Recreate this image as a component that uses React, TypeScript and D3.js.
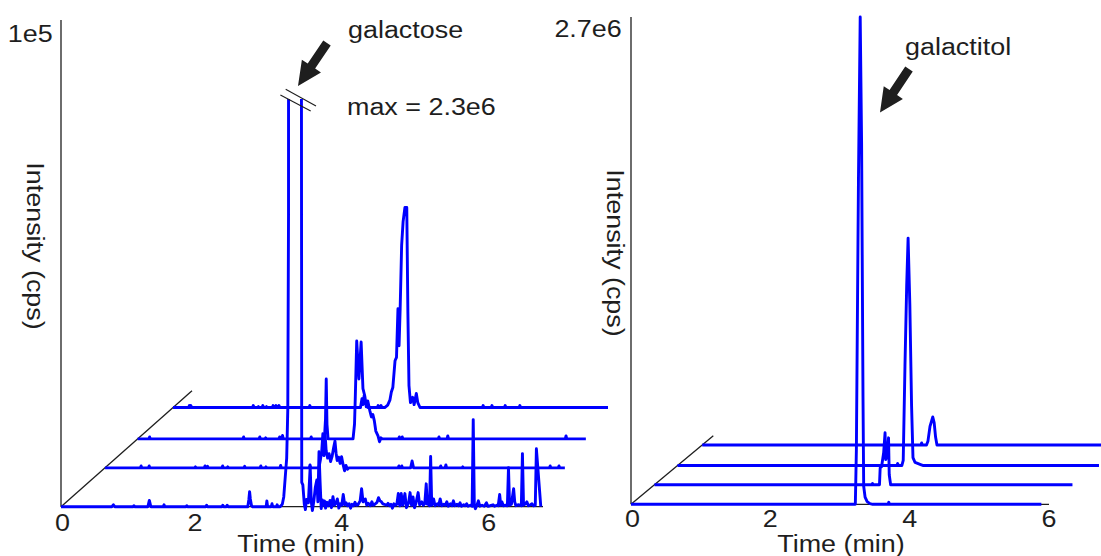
import React from "react";
import * as d3 from "d3";

type Pt = [number, number];

// ---------- data ----------
const timeTicks = [0, 2, 4, 6];
const leftMax = 1e5;
const rightMax = 2.7e6;
const leftMaxLabel = "1e5";
const rightMaxLabel = "2.7e6";
const leftTimeDomain: Pt = [0.177, 6.74];
const rightTimeDomain: Pt = [0, 6];
const leftDepths = [0, 0.335, 0.585, 0.855];
const rightDepths = [0, 0.285, 0.565, 0.865];

const leftTrace0: Pt[] = [
  [0.177,0],[0.87,0],[0.89,400],[0.91,0],[1.16,0],[1.17,200],[1.18,0],[1.36,0],[1.38,1300],[1.40,0],
  [1.57,0],[1.58,400],[1.59,0],[1.88,0],[1.89,200],[1.90,0],[2.15,0],[2.16,300],[2.17,0],
  [2.37,0],[2.38,300],[2.39,0],[2.43,0],[2.44,300],[2.45,0],
  [2.72,0],[2.735,1500],[2.745,3100],[2.755,1600],[2.77,300],[2.78,0],
  [2.97,0],[2.98,1200],[2.99,0],[3.04,0],[3.05,600],[3.06,0],[3.11,0],[3.12,400],[3.13,0],
  [3.16,0],[3.19,500],[3.21,2000],[3.23,6000],[3.25,10000],[3.265,20000],[3.275,60000],[3.29,2300000],
  [3.41,2100000],[3.44,300000],[3.455,5000],
  [3.47,4500],[3.49,500],[3.505,-600],[3.52,1500],[3.545,800],[3.57,8200],[3.585,1000],[3.60,-800],
  [3.62,1200],[3.64,4000],[3.66,5500],[3.675,1000],[3.69,11300],[3.705,5000],[3.72,-400],[3.735,1400],
  [3.75,300],[3.765,1200],[3.78,-300],[3.80,900],[3.82,200],[3.84,1300],[3.86,-200],[3.88,2050],
  [3.90,300],[3.92,700],[3.94,1600],[3.96,-300],[3.98,600],[4.00,300],[4.02,2500],[4.04,400],
  [4.06,800],[4.08,200],[4.10,600],[4.12,-300],[4.14,500],[4.16,200],[4.18,900],[4.20,300],
  [4.22,400],[4.25,1200],[4.27,3700],[4.29,1000],[4.32,1600],[4.34,300],[4.36,700],[4.39,200],
  [4.41,1000],[4.43,300],[4.45,500],[4.48,900],[4.50,1850],[4.52,1200],[4.54,1000],[4.56,600],
  [4.58,500],[4.61,300],[4.63,700],[4.65,200],[4.67,500],[4.69,-300],[4.71,600],[4.73,300],
  [4.75,500],[4.77,2700],[4.79,200],[4.81,2700],[4.83,300],[4.86,2700],[4.88,-200],[4.91,800],
  [4.93,2900],[4.95,300],[4.97,2000],[4.99,-200],[5.01,700],[5.04,2900],[5.06,400],[5.09,1000],
  [5.11,300],[5.13,600],[5.15,4700],[5.165,500],[5.18,2000],[5.195,200],[5.21,10300],[5.225,300],
  [5.25,1600],[5.27,200],[5.30,600],[5.32,300],[5.34,1600],[5.36,200],[5.39,500],[5.41,300],
  [5.43,1000],[5.45,100],[5.48,600],[5.50,200],[5.52,1200],[5.54,200],[5.57,500],[5.59,200],
  [5.61,800],[5.63,100],[5.66,400],[5.68,200],[5.70,600],[5.72,100],[5.75,300],[5.775,100],
  [5.79,17900],[5.805,200],[5.82,-400],[5.84,300],[5.86,1200],[5.88,100],[5.91,300],[5.94,100],
  [5.97,800],[5.99,100],[6.02,200],[6.06,400],[6.08,100],[6.11,300],[6.13,200],[6.15,2500],
  [6.165,300],[6.18,1000],[6.20,200],[6.23,300],[6.255,200],[6.27,8000],[6.285,300],[6.31,500],
  [6.34,3700],[6.355,1000],[6.37,200],[6.40,400],[6.43,300],[6.445,200],[6.46,10900],[6.475,300],
  [6.50,600],[6.52,1000],[6.54,200],[6.57,400],[6.59,600],[6.61,200],[6.635,300],[6.65,11900],
  [6.71,0]
];

const leftTrace1: Pt[] = [
  [0.177,0],[0.66,0],[0.67,400],[0.68,0],[0.77,0],[0.78,400],[0.79,0],[1.40,0],[1.41,200],[1.42,0],
  [1.53,0],[1.54,400],[1.55,0],[1.565,0],[1.575,300],[1.585,0],[1.77,0],[1.78,400],[1.79,0],
  [1.84,0],[1.85,200],[1.86,0],[2.07,0],[2.08,300],[2.09,0],[2.29,0],[2.30,400],[2.31,0],
  [2.36,0],[2.37,200],[2.38,0],[2.56,0],[2.57,500],[2.58,0],[2.96,0],[2.97,600],[2.98,0],
  [3.09,0],[3.11,1500],[3.13,3500],[3.145,7000],[3.16,2500],[3.175,7000],[3.19,3500],[3.21,2000],
  [3.23,2900],[3.25,1300],[3.27,2300],[3.29,4000],[3.31,5500],[3.325,3000],[3.34,1500],[3.36,2200],
  [3.38,900],[3.40,2300],[3.42,700],[3.44,-600],[3.46,500],[3.48,-300],[3.50,0],
  [4.17,0],[4.18,400],[4.19,0],[4.21,0],[4.22,400],[4.23,0],[4.34,0],[4.36,1400],[4.38,0],
  [4.74,0],[4.75,400],[4.76,0],[4.81,0],[4.82,600],[4.83,0],[5.04,0],[5.05,200],[5.06,0],
  [6.23,0],[6.24,400],[6.25,0],[6.35,0],[6.36,400],[6.37,0],[6.44,0]
];

const leftTrace2: Pt[] = [
  [0.177,0],[0.33,0],[0.34,400],[0.35,0],[1.61,0],[1.62,400],[1.63,0],[1.83,0],[1.84,400],[1.85,0],
  [1.91,0],[1.92,200],[1.93,0],[2.10,0],[2.11,400],[2.12,0],[2.14,0],[2.15,700],[2.16,0],
  [2.53,0],[2.54,400],[2.55,0],[2.72,0],[2.735,4000],[2.745,12300],[2.755,3000],[2.77,0],
  [3.11,0],[3.13,3000],[3.14,8200],[3.16,20100],[3.19,12300],[3.22,19900],[3.245,10300],
  [3.27,8800],[3.29,6600],[3.31,7800],[3.34,5700],[3.36,4500],[3.38,5000],[3.40,3700],
  [3.42,1600],[3.45,600],[3.47,-600],[3.49,200],[3.51,0],
  [3.73,0],[3.74,400],[3.75,0],[3.77,0],[3.78,400],[3.79,0],[4.27,0],[4.28,400],[4.29,0],
  [4.39,0],[4.40,600],[4.41,0],[6.00,0],[6.01,600],[6.02,0],[6.28,0]
];

const leftTrace3: Pt[] = [
  [0.177,0],[0.39,0],[0.40,400],[0.41,0],[0.42,400],[0.43,0],[1.26,0],[1.27,400],[1.28,0],
  [1.33,0],[1.34,200],[1.35,0],[1.39,0],[1.40,400],[1.41,0],[1.44,0],[1.45,200],[1.46,0],
  [1.53,0],[1.54,400],[1.55,0],[1.57,0],[1.58,400],[1.59,0],[1.61,0],[1.62,400],[1.63,0],
  [2.03,0],[2.04,400],[2.05,0],
  [2.73,0],[2.75,1800],[2.765,600],[2.78,2500],[2.795,800],[2.81,1000],[2.83,0],
  [2.96,0],[2.97,400],[2.98,0],[3.00,0],[3.01,400],[3.02,0],
  [3.06,0],[3.10,500],[3.13,1500],[3.15,3200],[3.17,4100],[3.20,9600],[3.22,10300],[3.24,20300],
  [3.255,12700],[3.27,20300],[3.29,33300],[3.31,38200],[3.335,41100],[3.36,41100],[3.375,19700],
  [3.39,4500],[3.41,1000],[3.44,2100],[3.46,600],[3.49,2900],[3.51,1000],[3.54,0],
  [4.39,0],[4.40,400],[4.41,0],[4.51,0],[4.52,400],[4.53,0],[4.69,0],[4.70,400],[4.71,0],
  [4.89,0],[4.90,400],[4.91,0],[6.10,0]
];

const rightTrace0: Pt[] = [
  [0,0],[3.22,0],[3.235,300000],[3.265,1800000],[3.29,2700000],[3.31,2000000],[3.33,600000],
  [3.34,100000],[3.36,40000],[3.39,15000],[3.43,4000],[3.47,0],[3.69,0],[3.70,11000],[3.71,0],[5.89,0]
];
const rightTrace1: Pt[] = [
  [0,0],[3.12,0],[3.13,7000],[3.14,0],[3.23,0],[3.24,94000],[3.26,100000],[3.29,177000],
  [3.31,288000],[3.32,139000],[3.34,166000],[3.36,260000],[3.37,55000],[3.39,0],[6.0,0]
];
const rightTrace2: Pt[] = [
  [0,0],[3.15,0],[3.16,11000],[3.17,0],[3.22,0],[3.24,28000],[3.265,550000],[3.29,1000000],
  [3.31,1260000],[3.335,890000],[3.36,330000],[3.38,44000],[3.41,17000],[3.49,5500],[3.53,0],[6.05,0]
];
const rightTrace3: Pt[] = [
  [0,0],[3.14,0],[3.15,11000],[3.16,0],[3.22,0],[3.24,20000],[3.27,103000],[3.31,155000],
  [3.33,122000],[3.35,44000],[3.37,0],[6.1,0]
];

const leftTraces = [leftTrace0, leftTrace1, leftTrace2, leftTrace3];
const rightTraces = [rightTrace0, rightTrace1, rightTrace2, rightTrace3];

// ---------- layout / style ----------
const W = 1101;
const H = 556;
const FONT = "'Liberation Sans', Arial, Helvetica, sans-serif";
const BLUE = "#0000ff";
const INK = "#1e1e1e";

function Label(props: { x: number; y: number; rotate?: number; anchor?: string; children: React.ReactNode }) {
  const { x, y, rotate = 0, anchor = "start", children } = props;
  return (
    <text
      transform={`translate(${x},${y}) rotate(${rotate}) scale(1.17,1)`}
      textAnchor={anchor}
      fontFamily={FONT}
      fontSize={23}
      fill={INK}
    >
      {children}
    </text>
  );
}

function arrowPoints(tail: Pt, tip: Pt, headLen = 24, headHalf = 11.5, shaftHalf = 4.5) {
  const dx = tip[0] - tail[0];
  const dy = tip[1] - tail[1];
  const L = Math.hypot(dx, dy);
  const ux = dx / L, uy = dy / L;
  const px = -uy, py = ux;
  const bx = tip[0] - ux * headLen, by = tip[1] - uy * headLen;
  const pts: Pt[] = [
    [tail[0] + px * shaftHalf, tail[1] + py * shaftHalf],
    [bx + px * shaftHalf, by + py * shaftHalf],
    [bx + px * headHalf, by + py * headHalf],
    tip,
    [bx - px * headHalf, by - py * headHalf],
    [bx - px * shaftHalf, by - py * shaftHalf],
    [tail[0] - px * shaftHalf, tail[1] - py * shaftHalf],
  ];
  return pts.map((p) => p.join(",")).join(" ");
}

type PanelCfg = {
  id: string;
  traces: Pt[][];
  depths: number[];
  timeDomain: Pt;
  x0: number;
  x1: number;
  yTop: number;
  yBase: number;
  yMax: number;
  depthVec: Pt;
  clipTop?: number;
  tickBaseline: number;
  titleX: number;
  ylabelX: number;
  ylabelY: number;
  maxLabel: string;
  maxLabelX: number;
  maxLabelY: number;
};

function Panel({ cfg }: { cfg: PanelCfg }) {
  const x = d3.scaleLinear().domain(cfg.timeDomain).range([cfg.x0, cfg.x1]);
  const y = d3.scaleLinear().domain([0, cfg.yMax]).range([cfg.yBase, cfg.yTop]);
  const line = d3
    .line<Pt>()
    .x((d) => x(d[0]))
    .y((d) => y(d[1]));
  const order = cfg.traces.map((_, i) => i).reverse();
  return (
    <g>
      {cfg.clipTop !== undefined && (
        <defs>
          <clipPath id={`clip-${cfg.id}`}>
            <rect x={0} y={cfg.clipTop} width={W} height={H - cfg.clipTop} />
          </clipPath>
        </defs>
      )}
      {/* axes */}
      <line x1={cfg.x0} y1={cfg.yTop} x2={cfg.x0} y2={cfg.yBase} stroke={INK} strokeWidth={1.3} />
      <line x1={cfg.x0} y1={cfg.yBase} x2={cfg.x1} y2={cfg.yBase} stroke={INK} strokeWidth={1.3} />
      <line
        x1={cfg.x0}
        y1={cfg.yBase}
        x2={cfg.x0 + cfg.depthVec[0]}
        y2={cfg.yBase + cfg.depthVec[1]}
        stroke={INK}
        strokeWidth={1.3}
      />
      {/* traces */}
      <g clipPath={cfg.clipTop !== undefined ? `url(#clip-${cfg.id})` : undefined}>
        {order.map((i) => (
          <path
            key={i}
            d={line(cfg.traces[i]) || ""}
            transform={`translate(${cfg.depths[i] * cfg.depthVec[0]},${cfg.depths[i] * cfg.depthVec[1]})`}
            fill="none"
            stroke={BLUE}
            strokeWidth={2.9}
            strokeLinejoin="round"
          />
        ))}
      </g>
      {/* tick labels */}
      {timeTicks.map((t) => (
        <Label key={t} x={x(Math.max(t, cfg.timeDomain[0])) + (t === 0 ? 1.5 : 0)} y={cfg.tickBaseline} anchor="middle">
          {String(t)}
        </Label>
      ))}
      <Label x={cfg.titleX} y={552} anchor="middle">Time (min)</Label>
      <Label x={cfg.ylabelX} y={cfg.ylabelY} rotate={90} anchor="middle">Intensity (cps)</Label>
      <Label x={cfg.maxLabelX} y={cfg.maxLabelY} anchor="end">{cfg.maxLabel}</Label>
    </g>
  );
}

const leftCfg: PanelCfg = {
  id: "left",
  traces: leftTraces,
  depths: leftDepths,
  timeDomain: leftTimeDomain,
  x0: 61,
  x1: 543,
  yTop: 20,
  yBase: 506.7,
  yMax: leftMax,
  depthVec: [131, -116],
  clipTop: 99,
  tickBaseline: 531,
  titleX: 301,
  ylabelX: 27,
  ylabelY: 246,
  maxLabel: leftMaxLabel,
  maxLabelX: 52.7,
  maxLabelY: 41.7,
};

const rightCfg: PanelCfg = {
  id: "right",
  traces: rightTraces,
  depths: rightDepths,
  timeDomain: rightTimeDomain,
  x0: 631,
  x1: 1049,
  yTop: 17,
  yBase: 504.3,
  yMax: rightMax,
  depthVec: [82.3, -68.6],
  tickBaseline: 527,
  titleX: 841,
  ylabelX: 606.5,
  ylabelY: 253,
  maxLabel: rightMaxLabel,
  maxLabelX: 621.7,
  maxLabelY: 37,
};

export default function App() {
  return (
    <svg
      width={W}
      height={H}
      viewBox={`0 0 ${W} ${H}`}
      style={{ position: "absolute", left: 0, top: 0, display: "block", background: "#fff" }}
    >
      <rect x={0} y={0} width={W} height={H} fill="#fff" />
      <Panel cfg={leftCfg} />
      <Panel cfg={rightCfg} />
      {/* annotations */}
      <Label x={348} y={38}>galactose</Label>
      <Label x={347} y={115}>max = 2.3e6</Label>
      <Label x={905} y={55}>galactitol</Label>
      <polygon points={arrowPoints([327, 43], [298, 86])} fill={INK} />
      <polygon points={arrowPoints([909, 69], [880, 112.5])} fill={INK} />
      <line x1={285.7} y1={89.3} x2={316} y2={106} stroke={INK} strokeWidth={1.1} />
      <line x1={280.4} y1={95} x2={310.7} y2={111} stroke={INK} strokeWidth={1.1} />
    </svg>
  );
}
